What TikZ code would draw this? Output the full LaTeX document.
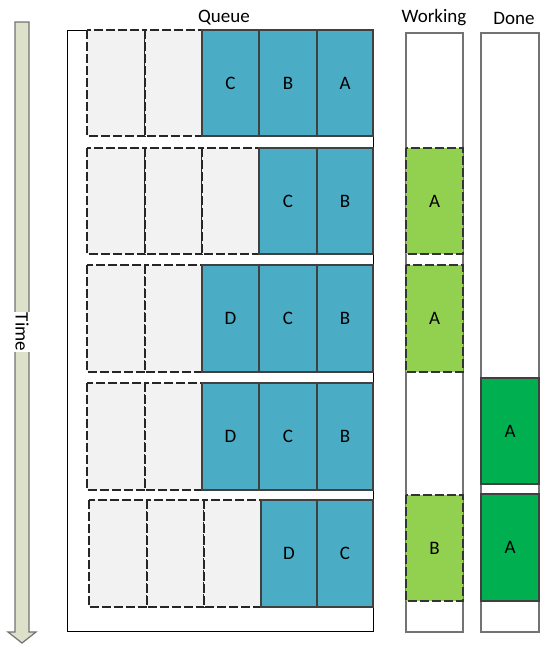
\documentclass[tikz,border=0pt]{standalone}
\usepackage{fontspec}
\setmainfont{Carlito}
\usepackage{tikz}
\definecolor{slotgray}{HTML}{F2F2F2}
\definecolor{jobblue}{HTML}{4BACC6}
\definecolor{rungreen}{HTML}{92D050}
\definecolor{donegreen}{HTML}{00B050}
\definecolor{timefill}{HTML}{DDE1CA}
\tikzset{
  emptyslot/.style={fill=slotgray, draw=black!85, line width=1.3pt, dash pattern=on 9pt off 3pt},
  jobslot/.style={fill=jobblue, draw=black!75, line width=1.3pt},
  runslot/.style={fill=rungreen, draw=black!80, line width=1.3pt, dash pattern=on 9pt off 3pt},
  doneslot/.style={fill=donegreen, draw=black!75, line width=1.3pt},
  column/.style={fill=white, draw=black!55, line width=1.3pt},
  heading/.style={font=\fontsize{19}{22}\selectfont}
}
\newcommand{\slotE}[4]{ \filldraw[emptyslot] ( #1 , #2 ) rectangle ( #3 , #4 );}
\newcommand{\slotJ}[5]{ \filldraw[jobslot] ( #1 , #2 ) rectangle ( #3 , #4 ); \node[heading] at (#3 * 0.5 + #1 * 0.5 , #4 * 0.5 + #2 * 0.5) {#5};}
\newcommand{\slotR}[5]{ \filldraw[runslot] ( #1 , #2 ) rectangle ( #3 , #4 ); \node[heading] at (#3 * 0.5 + #1 * 0.5 , #4 * 0.5 + #2 * 0.5) {#5};}
\newcommand{\slotD}[5]{ \filldraw[doneslot] ( #1 , #2 ) rectangle ( #3 , #4 ); \node[heading] at (#3 * 0.5 + #1 * 0.5 , #4 * 0.5 + #2 * 0.5) {#5};}
\begin{document}
\begin{tikzpicture}[x=1pt,y=-1pt]
\useasboundingbox (0,0) rectangle (547,645);
% time arrow
\filldraw[fill=timefill, draw=black!55, line width=1.2pt] (15,22) -- (29,22) -- (29,632) -- (36,632) -- (22,643) -- (8,632) -- (15,632) -- cycle;
\node[heading, rotate=-90, fill=white, inner sep=1pt] (time) at (22,332) {Time};
% headings
\node[heading] (queue) at (224,18) {Queue};
\node[heading] (working) at (434,18) {Working};
\node[heading] (done) at (514,18) {Done};
% queue frame
\filldraw[fill=white, draw=black, line width=0.9pt] (67,30) rectangle (373,631);
% row1
\slotE{87}{30}{145}{136}
\slotE{145}{30}{202}{136}
\slotJ{202}{30}{259}{136}{C}
\slotJ{259}{30}{317}{136}{B}
\slotJ{317}{30}{373}{136}{A}
% row2
\slotE{87}{148}{145}{254}
\slotE{145}{148}{202}{254}
\slotE{202}{148}{259}{254}
\slotJ{259}{148}{317}{254}{C}
\slotJ{317}{148}{373}{254}{B}
% row3
\slotE{87}{265}{145}{372}
\slotE{145}{265}{202}{372}
\slotJ{202}{265}{259}{372}{D}
\slotJ{259}{265}{317}{372}{C}
\slotJ{317}{265}{373}{372}{B}
% row4
\slotE{87}{383}{145}{490}
\slotE{145}{383}{202}{490}
\slotJ{202}{383}{259}{490}{D}
\slotJ{259}{383}{317}{490}{C}
\slotJ{317}{383}{373}{490}{B}
% row5
\slotE{89}{500}{147}{607}
\slotE{147}{500}{204}{607}
\slotE{204}{500}{261}{607}
\slotJ{261}{500}{317}{607}{D}
\slotJ{317}{500}{373}{607}{C}
% working
\filldraw[column] (406,33) rectangle (463,632);
\slotR{406}{148}{463}{254}{A}
\slotR{406}{265}{463}{372}{A}
\slotR{406}{495}{463}{601}{B}
% done
\filldraw[column] (481,33) rectangle (539,632);
\slotD{481}{378}{539}{484}{A}
\slotD{481}{494}{539}{601}{A}
\end{tikzpicture}
\end{document}
